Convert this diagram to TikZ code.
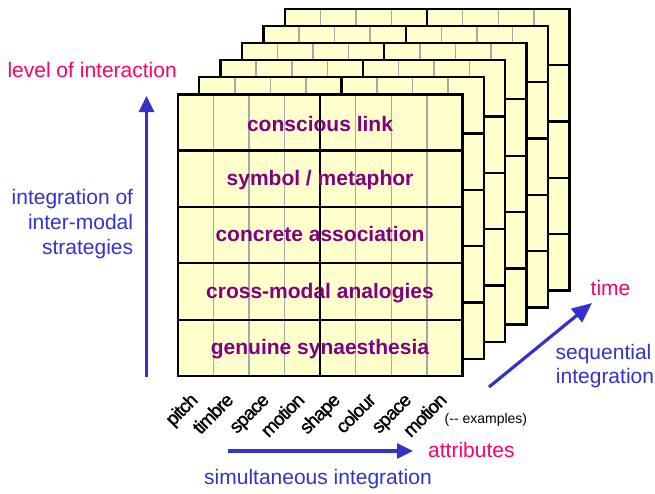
\documentclass[tikz,border=0pt]{standalone}
\usepackage{fontspec}
\setmainfont{Liberation Sans}
\newfontfamily\labelfont[FakeBold=1.2,LetterSpace=-5]{Liberation Sans}
\usetikzlibrary{arrows.meta}
\definecolor{cellfill}{HTML}{FFFFCC}
\definecolor{gridgray}{HTML}{A8A8A8}
\definecolor{rowtext}{HTML}{800080}
\definecolor{axisred}{HTML}{FF0066}
\definecolor{axisblue}{HTML}{3333CC}
\tikzset{
  layerfill/.style={fill=cellfill},
  grayline/.style={draw=gridgray,line width=1.5pt},
  blackline/.style={draw=black,line width=2.3pt},
  layerborder/.style={draw=black,line width=2.5pt,line join=miter},
  rowlabel/.style={text=rowtext,font=\fontsize{21}{25}\selectfont\bfseries,anchor=base,inner sep=0pt},
  collabel/.style={text=black,font=\labelfont\fontsize{19}{21}\selectfont,anchor=base east,rotate=45,inner sep=0pt},
  redlabel/.style={text=axisred,font=\fontsize{21}{25}\selectfont,inner sep=0pt},
  bluelabel/.style={text=axisblue,font=\fontsize{21}{25}\selectfont,inner sep=0pt},
  axisarrow/.style={draw=axisblue,line width=3.2pt,-{Triangle[length=16pt,width=15pt]}},
}
\begin{document}
\begin{tikzpicture}[x=1pt,y=-1pt]
\useasboundingbox (0,0) rectangle (655,493);
% stacked layers, back to front
\foreach \k in {5,4,3,2,1,0} {
  \begin{scope}[shift={(21.4*\k,-17.1*\k)}]
    \fill[layerfill] (177.8,94.3) rectangle (462.4,376);
    \foreach \c in {1,2,3,5,6,7} {
      \draw[grayline] (177.8+35.575*\c,94.3) -- (177.8+35.575*\c,376);
    }
    \draw[blackline] (320.1,94.3) -- (320.1,376);
    \foreach \r in {1,2,3,4} {
      \draw[blackline] (177.8,94.3+56.34*\r) -- (462.4,94.3+56.34*\r);
    }
    \draw[layerborder] (177.8,94.3) rectangle (462.4,376);
  \end{scope}
}
% row labels
\node[rowlabel] (r1) at (320,131.5) {conscious link};
\node[rowlabel] (r2) at (320,185.5) {symbol / metaphor};
\node[rowlabel] (r3) at (320,241) {concrete association};
\node[rowlabel] (r4) at (320,298) {cross-modal analogies};
\node[rowlabel] (r5) at (320,354) {genuine synaesthesia};
% column labels
\node[collabel] (c1) at (199,401) {pitch};
\node[collabel] (c2) at (234.6,401) {timbre};
\node[collabel] (c3) at (270.2,401) {space};
\node[collabel] (c4) at (305.7,401) {motion};
\node[collabel] (c5) at (341.3,401) {shape};
\node[collabel] (c6) at (376.9,401) {colour};
\node[collabel] (c7) at (412.5,401) {space};
\node[collabel] (c8) at (448,401) {motion};
\node[anchor=base west,inner sep=0pt,font=\fontsize{14}{16}\selectfont] (ex) at (444.5,423) {(-{}- examples)};
% vertical axis
\coordinate (vb) at (146.5,377);
\coordinate (vt) at (146.5,96);
\draw[axisarrow] (vb) -- (vt);
\node[redlabel,anchor=base west] (lvl) at (7.3,77) {level of interaction};
\node[bluelabel,anchor=base east] (i1) at (133.3,204) {integration of};
\node[bluelabel,anchor=base east] (i2) at (133.3,229) {inter-modal};
\node[bluelabel,anchor=base east] (i3) at (133.3,254) {strategies};
% horizontal axis
\coordinate (hb) at (228,451);
\coordinate (ht) at (413,451);
\draw[axisarrow] (hb) -- (ht);
\node[redlabel,anchor=base west] (att) at (428,457) {attributes};
\node[bluelabel,anchor=base] (sim) at (318,484) {simultaneous integration};
% time axis
\coordinate (db) at (489,387);
\coordinate (dt) at (592,303);
\draw[axisarrow,-{Triangle[length=20pt,width=17pt]}] (db) -- (dt);
\node[redlabel,anchor=base] (tim) at (610.5,295) {time};
\node[bluelabel,anchor=base] (s1) at (603.5,359) {sequential};
\node[bluelabel,anchor=base] (s2) at (605,383) {integration};
\end{tikzpicture}
\end{document}
